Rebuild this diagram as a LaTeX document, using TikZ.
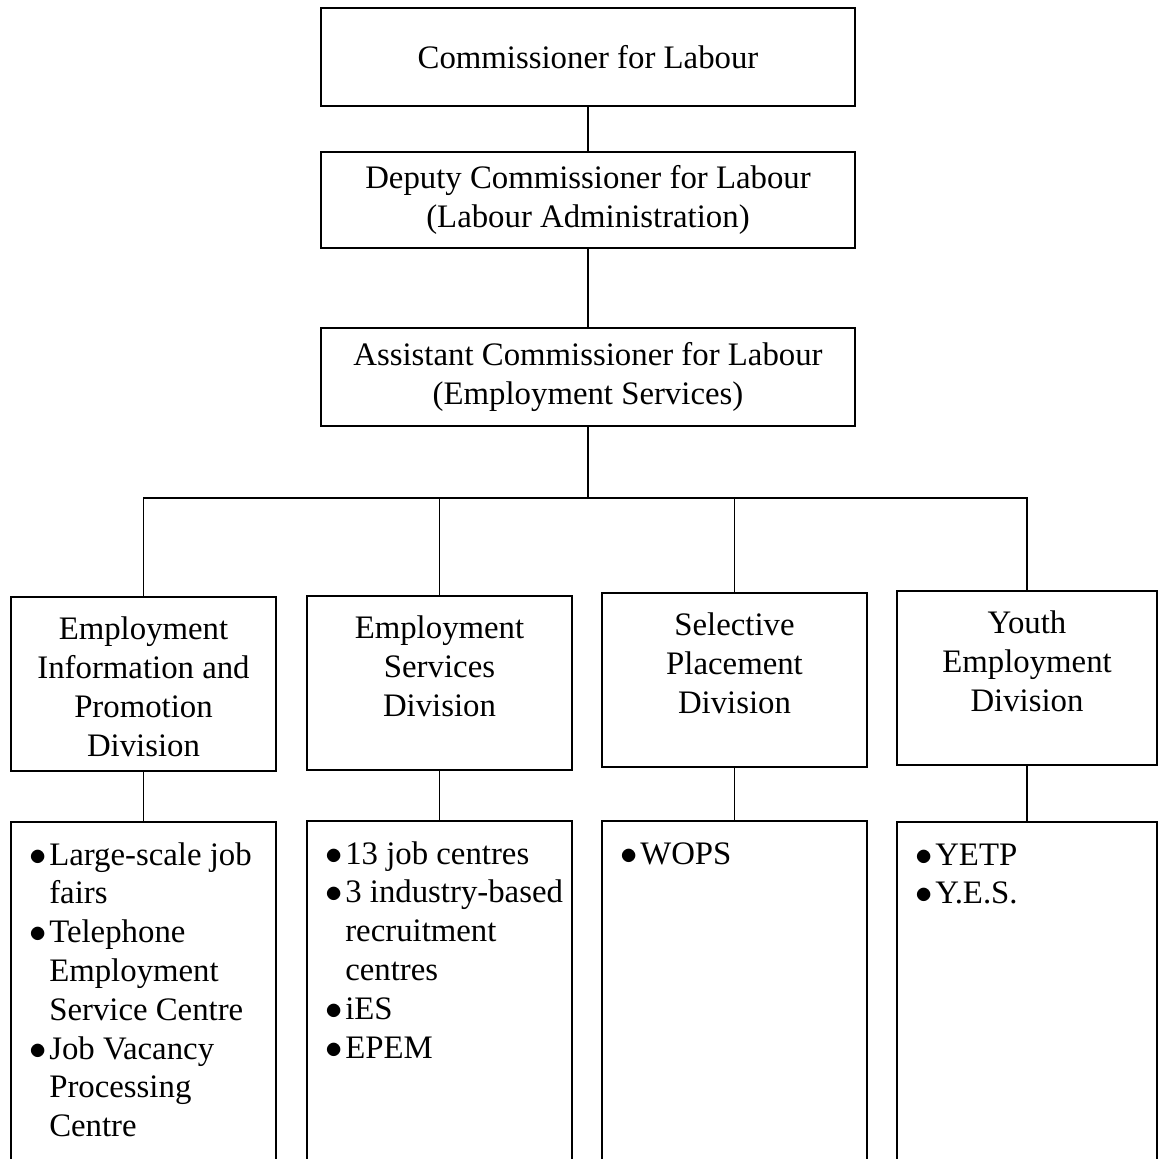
\documentclass[tikz,border=0pt]{standalone}
\usepackage{fontspec}
\setmainfont{Liberation Serif}
\usetikzlibrary{positioning}
\tikzset{
    unitbox/.style={draw=black, rectangle, minimum width=267pt, align=center, inner sep=0pt},
    divbox/.style={draw=black, rectangle, minimum width=132.5pt, minimum height=87pt, inner sep=0pt},
    listbox/.style={draw=black, rectangle, minimum width=132.5pt, minimum height=190pt, inner sep=0pt},
    divtext/.style={anchor=north, align=center, inner sep=0pt},
    listtext/.style={anchor=north west, inner sep=0pt},
}
\newcommand{\bulletlist}[1]{\begin{tabular}{@{}l@{\hspace{1.5pt}}l@{}}#1\end{tabular}}
\newcommand{\bul}{$\bullet$}

\begin{document}
\begin{tikzpicture}[x=0.5pt, y=-0.5pt, line width=0.9pt,
    font=\fontsize{16.4}{19.4}\selectfont]
	\useasboundingbox (0,0) rectangle (1159,1158);
	\clip (0,0) rectangle (1159,1158);
	% top of the chain
	\node[unitbox, minimum height=49pt] (comm) at (588,57) {Commissioner for Labour};
	\node[unitbox, minimum height=48pt] (dep) at (588,200) {Deputy Commissioner for Labour\\(Labour Administration)};
	\node[unitbox, minimum height=49pt] (asst) at (588,377) {Assistant Commissioner for Labour\\(Employment Services)};
	\coordinate (bus) at (588,498);
	% divisions
	\node[divbox] (eip) at (143.5,684) {};
	\node[divbox] (esd) at (439.5,683) {};
	\node[divbox] (spd) at (734.5,680) {};
	\node[divbox, minimum width=130pt] (yed) at (1027,678) {};
	\node[divtext] (eiptxt) at ([yshift=-10pt]eip.north) {Employment\\Information and\\Promotion\\Division};
	\node[divtext] (esdtxt) at ([yshift=-10pt]esd.north) {Employment\\Services\\Division};
	\node[divtext] (spdtxt) at ([yshift=-10pt]spd.north) {Selective\\Placement\\Division};
	\node[divtext] (yedtxt) at ([yshift=-10pt]yed.north) {Youth\\Employment\\Division};
	% lists of services
	\node[listbox] (eipl) at (143.5,1012) {};
	\node[listbox] (esdl) at (439.5,1011) {};
	\node[listbox] (spdl) at (734.5,1011) {};
	\node[listbox, minimum width=130pt] (yedl) at (1027,1012) {};
	\node[listtext] (eipitems) at ([xshift=9pt,yshift=-8pt]eipl.north west) {\bulletlist{%
		\bul & Large-scale job\\ & fairs\\
		\bul & Telephone\\ & Employment\\ & Service Centre\\
		\bul & Job Vacancy\\ & Processing\\ & Centre}};
	\node[listtext] (esditems) at ([xshift=9pt,yshift=-8pt]esdl.north west) {\bulletlist{%
		\bul & 13 job centres\\
		\bul & 3 industry-based\\ & recruitment\\ & centres\\
		\bul & iES\\
		\bul & EPEM}};
	\node[listtext] (spditems) at ([xshift=9pt,yshift=-8pt]spdl.north west) {\bulletlist{%
		\bul & WOPS}};
	\node[listtext] (yeditems) at ([xshift=9pt,yshift=-8pt]yedl.north west) {\bulletlist{%
		\bul & YETP\\
		\bul & Y.E.S.}};
	% connectors
	\draw (comm) -- (dep);
	\draw (dep) -- (asst);
	\draw (asst) -- (bus);
	\foreach \d in {eip,esd,spd,yed}{
		\draw (\d.north) |- (bus);
		\draw (\d) -- (\d l);
	}
\end{tikzpicture}
\end{document}
